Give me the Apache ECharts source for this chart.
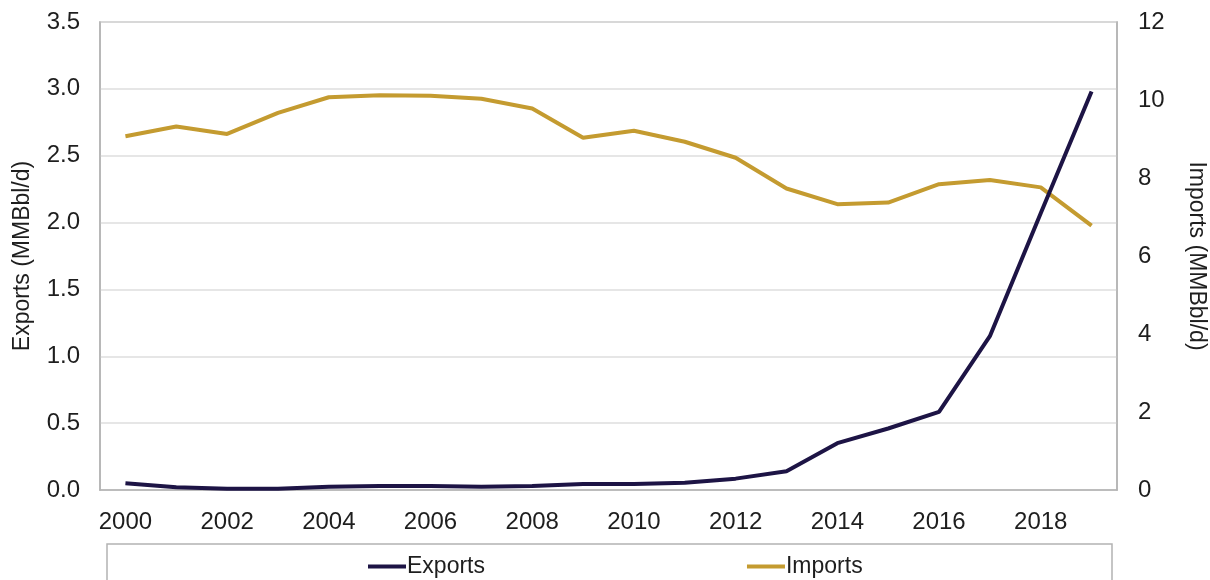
<!DOCTYPE html>
<html>
<head>
<meta charset="utf-8">
<script src="https://cdn.jsdelivr.net/npm/echarts@6/dist/echarts.min.js"></script>
<style>
  html, body { margin: 0; padding: 0; background: #fff; }
  #chart { width: 1210px; height: 580px; }
</style>
</head>
<body>
<div id="chart"></div>
<script>
// Years on the horizontal axis
const years = ['2000','2001','2002','2003','2004','2005','2006','2007','2008','2009',
               '2010','2011','2012','2013','2014','2015','2016','2017','2018','2019'];

// Crude oil exports, MMBbl/d (left axis)
const exportsData = [0.05, 0.02, 0.01, 0.01, 0.025, 0.03, 0.03, 0.025, 0.03, 0.045,
                     0.045, 0.055, 0.085, 0.14, 0.35, 0.46, 0.585, 1.15, 2.07, 2.98];

// Crude oil imports, MMBbl/d (right axis)
const importsData = [9.07, 9.32, 9.13, 9.67, 10.07, 10.12, 10.11, 10.03, 9.78, 9.03,
                     9.21, 8.93, 8.52, 7.73, 7.33, 7.37, 7.84, 7.95, 7.76, 6.78];

const FONT = '"Liberation Sans", Arial, sans-serif';
const TXT = '#1e1e1e';
const FS = 24;

const chart = echarts.init(document.getElementById('chart'), null, { renderer: 'canvas' });

chart.setOption({
  animation: false,
  backgroundColor: '#ffffff',
  textStyle: { fontFamily: FONT, color: TXT },
  grid: {
    left: 100, right: 93, top: 22, bottom: 90,
    outerBoundsMode: 'none',
    containLabel: false,
    show: true, borderColor: '#b3b3b3', borderWidth: 1.5
  },
  graphic: [{
    type: 'rect',
    shape: { x: 107, y: 544, width: 1005, height: 60 },
    style: { fill: '#ffffff', stroke: '#b3b3b3', lineWidth: 1.5 },
    z: -1
  }],
  legend: {
    left: 363, top: 550,
    itemWidth: 38, itemHeight: 4, itemGap: 262,
    icon: 'rect',
    textStyle: { fontFamily: FONT, fontSize: FS - 1, color: TXT, padding: [0, 0, 0, -4] },
    data: ['Exports', 'Imports']
  },
  xAxis: {
    type: 'category',
    data: years,
    boundaryGap: true,
    axisLine: { show: true, lineStyle: { color: '#b3b3b3', width: 1.5 } },
    axisTick: { show: false },
    axisLabel: { interval: 1, fontSize: FS, color: TXT, fontFamily: FONT, margin: 20 }
  },
  yAxis: [{
    type: 'value',
    min: 0, max: 3.5, interval: 0.5,
    name: 'Exports (MMBbl/d)',
    nameLocation: 'middle',
    nameGap: 66,
    nameTextStyle: { fontSize: FS - 1, color: TXT, fontFamily: FONT },
    axisLine: { show: true, lineStyle: { color: '#b3b3b3', width: 1.5 } },
    axisTick: { show: false },
    axisLabel: { fontSize: FS, color: TXT, fontFamily: FONT, margin: 20,
                 formatter: v => v.toFixed(1) },
    splitLine: { show: true, lineStyle: { color: '#dedede', width: 1.5 } }
  }, {
    type: 'value',
    min: 0, max: 12, interval: 2,
    name: 'Imports (MMBbl/d)',
    nameLocation: 'middle',
    nameGap: 68,
    nameRotate: -90,
    nameTextStyle: { fontSize: FS - 1, color: TXT, fontFamily: FONT },
    axisLine: { show: true, lineStyle: { color: '#b3b3b3', width: 1.5 } },
    axisTick: { show: false },
    axisLabel: { fontSize: FS, color: TXT, fontFamily: FONT, margin: 21 },
    splitLine: { show: false }
  }],
  series: [{
    name: 'Exports',
    type: 'line',
    yAxisIndex: 0,
    data: exportsData,
    showSymbol: false,
    symbol: 'none',
    lineStyle: { color: '#1d1445', width: 4 },
    itemStyle: { color: '#1d1445' },
    z: 3
  }, {
    name: 'Imports',
    type: 'line',
    yAxisIndex: 1,
    data: importsData,
    showSymbol: false,
    symbol: 'none',
    lineStyle: { color: '#c49b30', width: 4 },
    itemStyle: { color: '#c49b30' },
    z: 2
  }]
});
</script>
</body>
</html>
